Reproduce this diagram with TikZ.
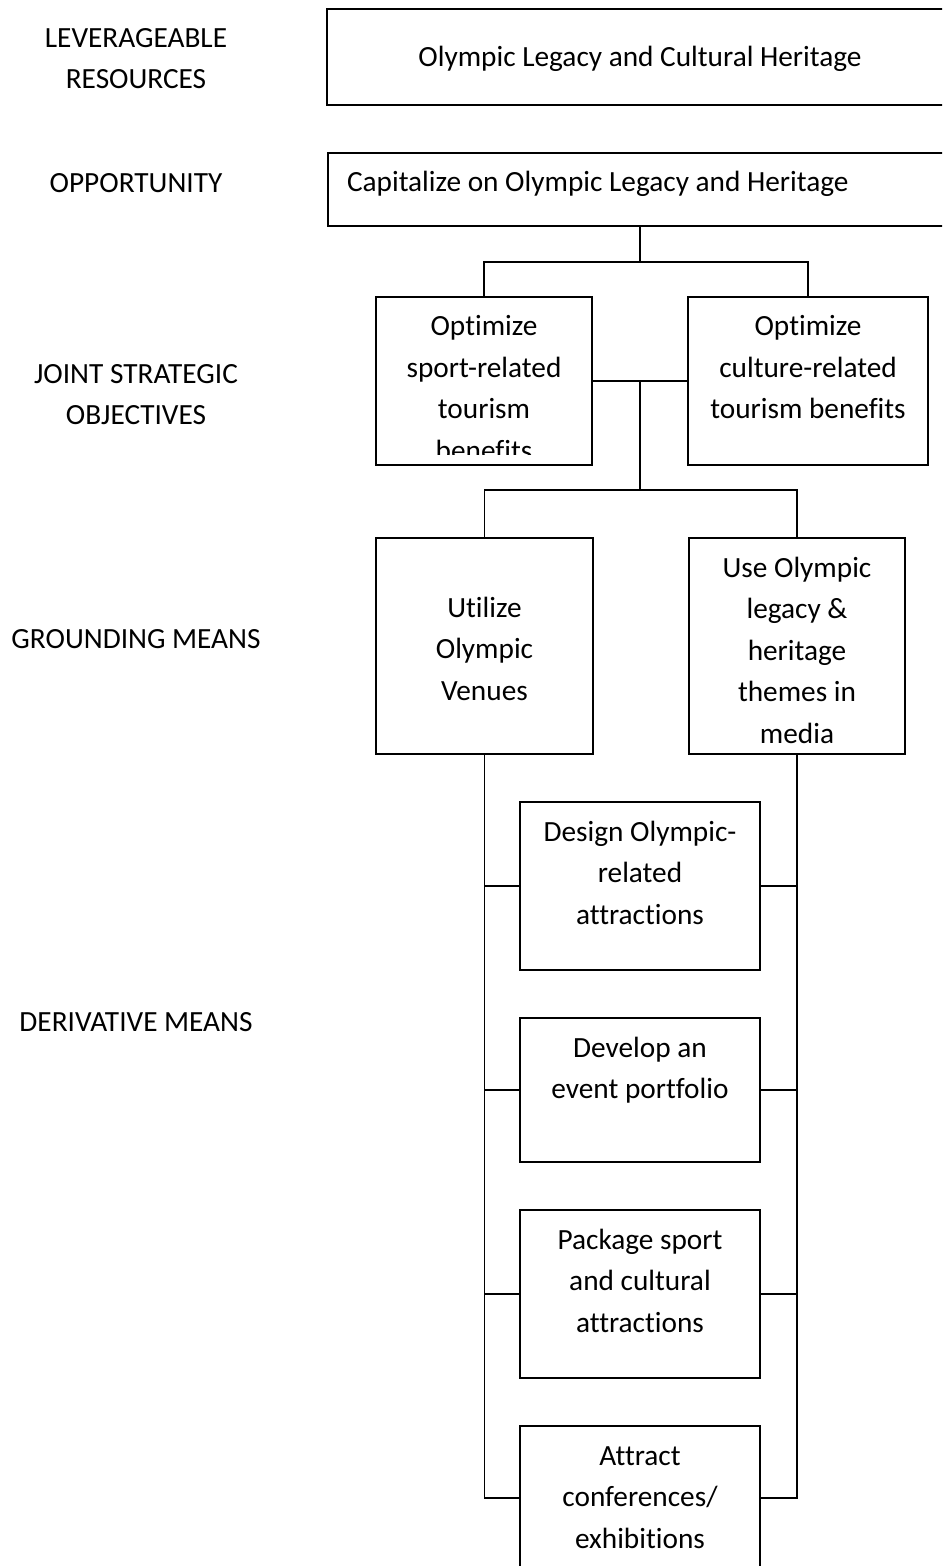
\documentclass[tikz,border=0pt]{standalone}
\usepackage{fontspec}
\setmainfont{Carlito}[Ligatures=NoCommon]
\usetikzlibrary{calc}
\newcommand\strt{\rule{0pt}{11.72pt}}
\begin{document}
\begin{tikzpicture}[x=0.5pt,y=-0.5pt,
  bx/.style n args={2}{draw=black, line width=0.85pt, minimum width=#1*0.5pt, minimum height=#2*0.5pt, inner sep=0pt, outer sep=0pt},
  txt/.style={font=\fontsize{14.65pt}{20.75pt}\selectfont, align=center, inner sep=0pt, outer sep=0pt, anchor=north},
  intop/.style={yshift=-7.78pt},
  conn/.style={draw=black, line width=0.85pt}]
\useasboundingbox (0,0) rectangle (942,1566);
\fill[white] (0,0) rectangle (942,1566);
\clip (0,0) rectangle (942,1566);

% left labels
\node[txt] (l1) at (136,23.86) {\strt LEVERAGEABLE\\RESOURCES};
\node[txt] (l2) at (136,169.26) {\strt OPPORTUNITY};
\node[txt] (l3) at (136,359.86) {\strt JOINT STRATEGIC\\OBJECTIVES};
\node[txt] (l4) at (136,624.56) {\strt GROUNDING MEANS};
\node[txt] (l5) at (136,1008.26) {\strt DERIVATIVE MEANS};

% boxes
\node[bx={626}{96}]  (b1)  at (640,57) {};
\node[bx={624}{73}]  (b2)  at (640,189.5) {};
\node[bx={216}{168}] (b3)  at (484,381) {};
\node[bx={240}{168}] (b4)  at (808,381) {};
\node[bx={217}{216}] (b5)  at (484.5,646) {};
\node[bx={216}{216}] (b6)  at (797,646) {};
\node[bx={240}{168}] (b7)  at (640,886) {};
\node[bx={240}{144}] (b8)  at (640,1090) {};
\node[bx={240}{168}] (b9)  at (640,1294) {};
\node[bx={240}{144}] (b10) at (640,1498) {};

% box texts
\node[txt] (t1) at (640,43.56) {\strt Olympic Legacy and Cultural Heritage};
\node[txt, anchor=north west] (t2) at (347,168.56) {\strt Capitalize on Olympic Legacy and Heritage};
\begin{scope}
\clip (376,297) rectangle (592,455);
\node[txt, intop] (t3) at (b3.north) {\strt Optimize\\sport-related\\tourism\\benefits};
\end{scope}
\node[txt, intop] (t4) at (b4.north) {\strt Optimize\\culture-related\\tourism benefits};
\node[txt, yshift=-27.78pt] (t5) at (b5.north) {\strt Utilize\\Olympic\\Venues};
\node[txt, intop] (t6) at (b6.north) {\strt Use Olympic\\legacy \&\\heritage\\themes in\\media};
\node[txt, intop] (t7) at (b7.north) {\strt Design Olympic-\\related\\attractions};
\node[txt, intop] (t8) at (b8.north) {\strt Develop an\\event portfolio};
\node[txt, intop] (t9) at (b9.north) {\strt Package sport\\and cultural\\attractions};
\node[txt, intop] (t10) at (b10.north) {\strt Attract\\conferences/\\exhibitions};

% connectors
\coordinate (j1) at (640,262);
\path[conn] (b2.south) -- (j1);
\path[conn] (b3.north) |- (j1) -| (b4.north);
\path[conn] (b3.east) -- (b4.west);
\coordinate (j2) at ($(b3.east)!0.5!(b4.west)$);
\coordinate (j3) at (640,490);
\path[conn] (j2) -- (j3);
\path[conn] (b5.north) |- (j3) -| (b6.north);
\path[conn] (b5.south) |- (b10.west);
\path[conn] (b6.south) |- (b10.east);
\path[conn] (b7.west) -- (b7.west -| b5.south);
\path[conn] (b8.west) -- (b8.west -| b5.south);
\path[conn] (b9.west) -- (b9.west -| b5.south);
\path[conn] (b7.east) -- (b7.east -| b6.south);
\path[conn] (b8.east) -- (b8.east -| b6.south);
\path[conn] (b9.east) -- (b9.east -| b6.south);
\end{tikzpicture}
\end{document}
